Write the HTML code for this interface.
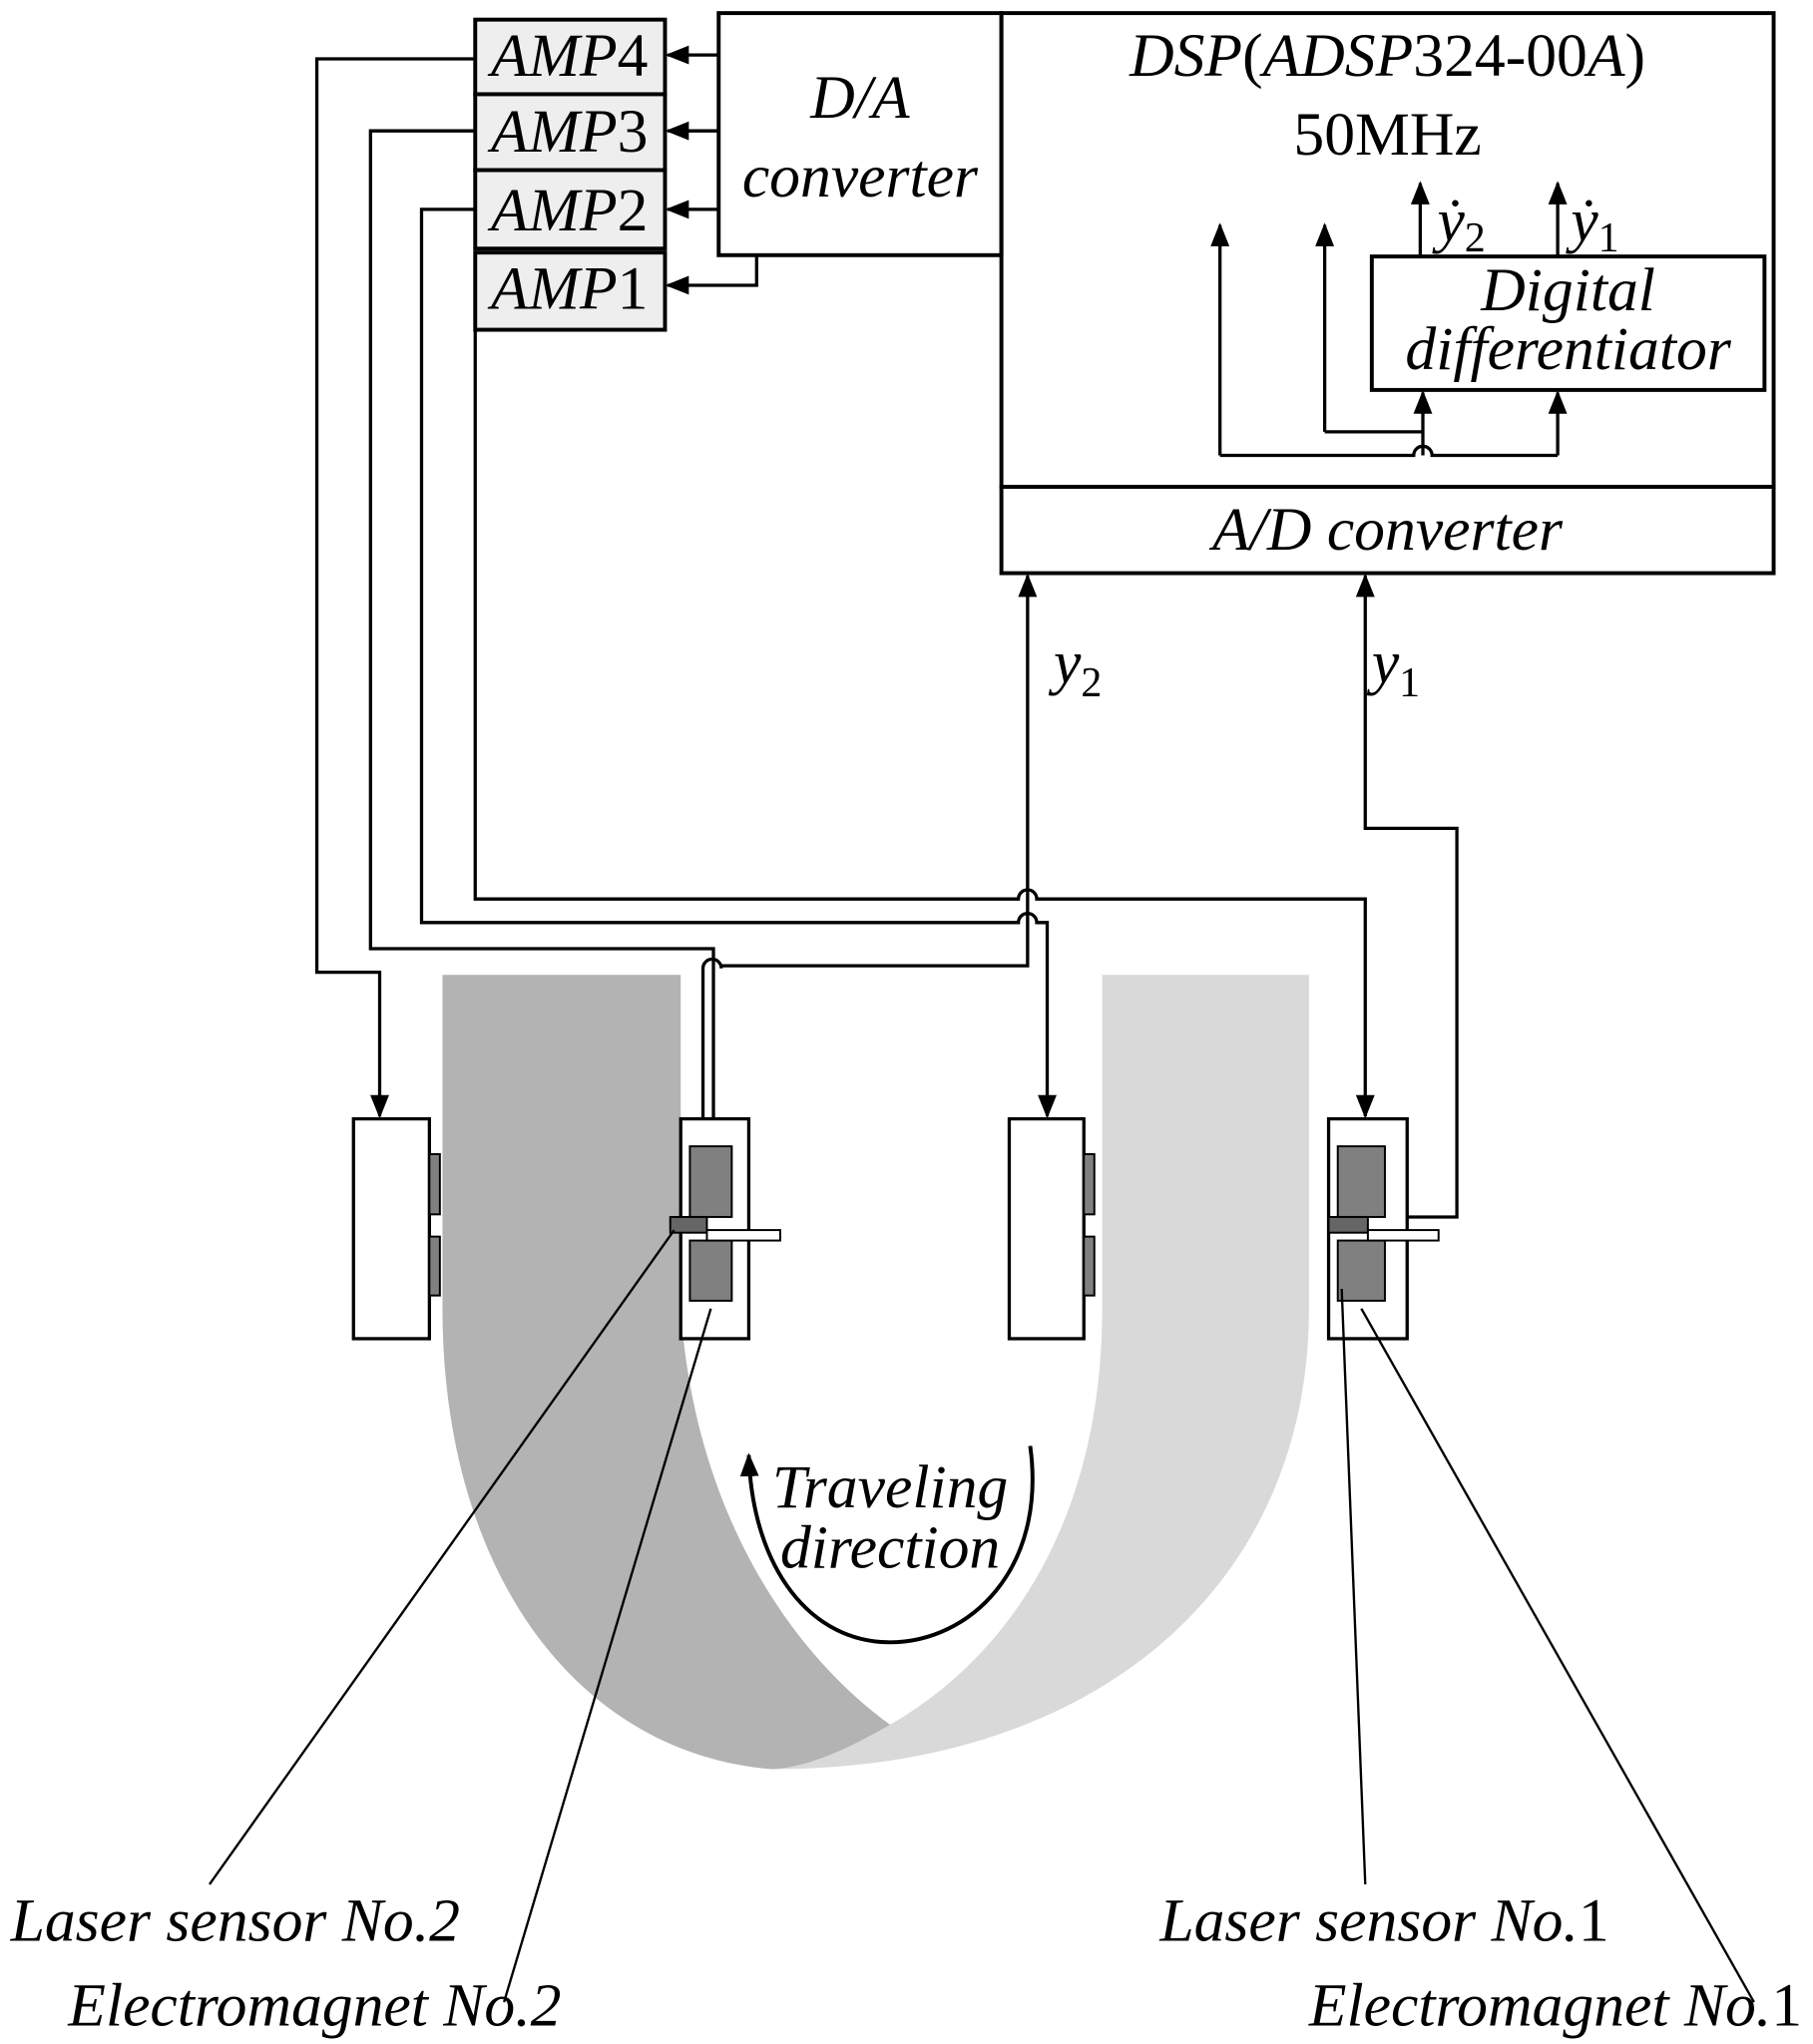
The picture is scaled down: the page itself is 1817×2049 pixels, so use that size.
<!DOCTYPE html>
<html><head><meta charset="utf-8"><style>
html,body{margin:0;padding:0;background:#fff}
svg{display:block}
text{font-family:"Liberation Serif",serif;fill:#000}
.i{font-style:italic}
</style></head><body>
<svg width="1817" height="2049" viewBox="0 0 1385 1562" xmlns="http://www.w3.org/2000/svg">
<defs>
<marker id="b" viewBox="0 0 10 10" refX="9" refY="5" markerWidth="18" markerHeight="18" markerUnits="userSpaceOnUse" orient="auto">
<path d="M0,1 L10,5 L0,9 z" fill="#000"/></marker>
</defs>
<g stroke="#000" stroke-width="3" fill="none">
<path d="M842 745 L1000 745 L1000 1000 C1000 1210 840 1352 590 1352 L590 1352 C620 1330 660 1320 680 1318 C780 1260 842 1150 842 1000 Z" fill="#d9d9d9" stroke="none"/>
<path d="M338 745 L520 745 L520 1000 C530 1150 600 1260 680 1318 C650 1335 620 1350 590 1352 C440 1340 338 1200 338 1000 Z" fill="#b3b3b3" stroke="none"/>

<rect x="363" y="15" width="145" height="57" fill="#eee"/>
<rect x="363" y="72" width="145" height="58" fill="#eee"/>
<rect x="363" y="130" width="145" height="60" fill="#eee"/>
<rect x="363" y="193" width="145" height="59" fill="#eee"/>
<rect x="549" y="10" width="216" height="185"/>
<rect x="765" y="10" width="590" height="362"/>
<rect x="765" y="372" width="590" height="66"/>
<rect x="1048" y="196" width="300" height="102"/>

<g stroke-width="2.5" marker-end="url(#b)">
<path d="M549 42 L510 42"/><path d="M549 100 L510 100"/><path d="M549 160 L510 160"/>
<path d="M578 195 L578 218 L510 218"/>
</g>
<g stroke-width="2.5">
<path d="M932 348 L932 172" marker-end="url(#b)"/>
<path d="M1012 330 L1012 172" marker-end="url(#b)"/>
<path d="M1012 330 L1087 330"/>
<path d="M1087 348 L1087 300" marker-end="url(#b)"/>
<path d="M932 348 L1080 348 A7 7 0 0 1 1094 348 L1190 348"/>
<path d="M1190 348 L1190 300" marker-end="url(#b)"/>
<path d="M1085 196 L1085 140" marker-end="url(#b)"/>
<path d="M1190 196 L1190 140" marker-end="url(#b)"/>
</g>
<g stroke-width="2.5">
<path d="M363 45 L242 45 L242 743 L290 743 L290 853" marker-end="url(#b)"/>
<path d="M363 100 L283 100 L283 725 L545 725 L545 878" marker-end="url(#b)"/>
<path d="M363 160 L322 160 L322 705 L778 705 A7 7 0 0 1 792 705 L800 705 L800 853" marker-end="url(#b)"/>
<path d="M363 252 L363 687 L778 687 A7 7 0 0 1 792 687 L1043 687 L1043 853" marker-end="url(#b)"/>
<path d="M537 930 L537 740 A7 7 0 0 1 551 740 L551 738 L785 738 L785 440" marker-end="url(#b)"/>
<path d="M1050 930 L1113 930 L1113 633 L1043 633 L1043 440" marker-end="url(#b)"/>
</g>
<g stroke-width="2.5">
<rect x="270" y="855" width="58" height="168" fill="#fff"/>
<rect x="328" y="882" width="8" height="46" fill="#808080" stroke-width="1.5"/>
<rect x="328" y="945" width="8" height="45" fill="#808080" stroke-width="1.5"/>
<rect x="771" y="855" width="57" height="168" fill="#fff"/>
<rect x="828" y="882" width="8" height="46" fill="#808080" stroke-width="1.5"/>
<rect x="828" y="945" width="8" height="45" fill="#808080" stroke-width="1.5"/>
<rect x="520" y="855" width="52" height="168" fill="#fff"/>
<rect x="527" y="876" width="32" height="54" fill="#808080" stroke-width="1.5"/>
<rect x="527" y="948" width="32" height="46" fill="#808080" stroke-width="1.5"/>
<rect x="512" y="930" width="28" height="12" fill="#666" stroke-width="1.5"/>
<rect x="540" y="940" width="56" height="8" fill="#fff" stroke-width="1.5"/>
<rect x="1015" y="855" width="60" height="168" fill="#fff"/>
<rect x="1022" y="876" width="36" height="54" fill="#808080" stroke-width="1.5"/>
<rect x="1022" y="948" width="36" height="46" fill="#808080" stroke-width="1.5"/>
<rect x="1015" y="930" width="30" height="12" fill="#666" stroke-width="1.5"/>
<rect x="1045" y="940" width="54" height="8" fill="#fff" stroke-width="1.5"/>
</g>
<path d="M787 1105 C800 1200 740 1255 680 1255 C620 1255 575 1200 572 1112" stroke-width="3" marker-end="url(#b)"/>
<g stroke-width="1.8">
<path d="M515 940 L160 1440"/><path d="M543 1000 L385 1530"/>
<path d="M1025 985 L1043 1440"/><path d="M1040 1000 L1340 1530"/>
</g>
</g>
<g font-size="47">
<text x="435" y="58" text-anchor="middle"><tspan class="i">AMP</tspan>4</text>
<text x="435" y="116" text-anchor="middle"><tspan class="i">AMP</tspan>3</text>
<text x="435" y="176" text-anchor="middle"><tspan class="i">AMP</tspan>2</text>
<text x="435" y="236" text-anchor="middle"><tspan class="i">AMP</tspan>1</text>
<text class="i" x="657" y="90" text-anchor="middle">D/A</text>
<text class="i" x="657" y="150" text-anchor="middle">converter</text>
<text x="1060" y="58" text-anchor="middle"><tspan class="i">DSP</tspan>(<tspan class="i">ADSP</tspan>324-00<tspan class="i">A</tspan>)</text>
<text x="1060" y="118" text-anchor="middle">50MHz</text>
<text class="i" x="1198" y="237" text-anchor="middle">Digital</text>
<text class="i" x="1198" y="282" text-anchor="middle">differentiator</text>
<text class="i" x="1060" y="420" text-anchor="middle">A/D converter</text>
<text class="i" x="1098" y="184">ẏ<tspan font-size="32" dy="8" font-style="normal">2</tspan></text>
<text class="i" x="1200" y="184">ẏ<tspan font-size="32" dy="8" font-style="normal">1</tspan></text>
<text class="i" x="805" y="522">y<tspan font-size="32" dy="10" font-style="normal">2</tspan></text>
<text class="i" x="1048" y="522">y<tspan font-size="32" dy="10" font-style="normal">1</tspan></text>
<text class="i" x="680" y="1152" text-anchor="middle">Traveling</text>
<text class="i" x="680" y="1198" text-anchor="middle">direction</text>
<text class="i" x="8" y="1483">Laser sensor No.2</text>
<text class="i" x="52" y="1548">Electromagnet No.2</text>
<text class="i" x="886" y="1483">Laser sensor No.<tspan font-style="normal">1</tspan></text>
<text class="i" x="1000" y="1548">Electromagnet No.<tspan font-style="normal">1</tspan></text>
</g>
</svg>
</body></html>
